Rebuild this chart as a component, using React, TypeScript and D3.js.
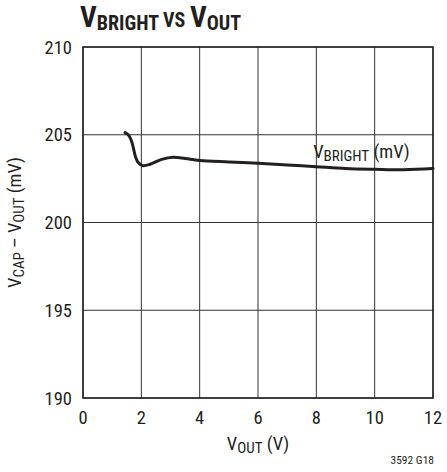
import React from "react";
import * as d3 from "d3";

// V_BRIGHT curve: [V_OUT (V), V_CAP - V_OUT (mV)]
const vOut = [1.44, 1.55, 1.65, 1.72, 1.8, 1.9, 2.05, 2.3, 2.7, 3.1, 3.5, 4.0, 5, 6, 7, 8, 9, 10, 11, 12];
const vBright = [205.12, 205.0, 204.7, 204.3, 203.75, 203.4, 203.24, 203.32, 203.6, 203.72, 203.65, 203.53, 203.45, 203.38, 203.28, 203.18, 203.08, 203.03, 203.0, 203.07];

const xTicks = [0, 2, 4, 6, 8, 10, 12];
const yTicks = [190, 195, 200, 205, 210];

const FONT = "'Liberation Sans Narrow', 'Arial Narrow', 'Roboto Condensed', sans-serif";

const App: React.FC = () => {
  const width = 447;
  const height = 472;
  const margin = { top: 47, right: 14, bottom: 74, left: 83 };
  const innerWidth = width - margin.left - margin.right;
  const innerHeight = height - margin.top - margin.bottom;

  const x = d3.scaleLinear().domain([0, 12]).range([0, innerWidth]);
  const y = d3.scaleLinear().domain([190, 210]).range([innerHeight, 0]);

  const points: [number, number][] = vOut.map((v, i) => [v, vBright[i]]);
  const line = d3
    .line<[number, number]>()
    .x((d) => x(d[0]))
    .y((d) => y(d[1]))
    .curve(d3.curveCatmullRom.alpha(0.5));

  return (
    <svg
      width={width}
      height={height}
      style={{ position: "absolute", left: 0, top: 0, background: "#fff" }}
      fontFamily={FONT}
    >
      {/* title */}
      <text x={80} y={27} fontWeight="bold" fontSize={29} fill="#231f20">
        V<tspan fontSize={20} dy={3}>BRIGHT</tspan>
        <tspan fontSize={20} dy={-3}> VS </tspan>
        V<tspan fontSize={20} dy={3}>OUT</tspan>
      </text>

      <g transform={`translate(${margin.left}, ${margin.top})`}>
        {/* grid */}
        {xTicks.map((t) => (
          <line key={`gx-${t}`} x1={x(t)} x2={x(t)} y1={0} y2={innerHeight} stroke="#333" strokeWidth={1} />
        ))}
        {yTicks.map((t) => (
          <line key={`gy-${t}`} x1={0} x2={innerWidth} y1={y(t)} y2={y(t)} stroke="#333" strokeWidth={1} />
        ))}
        <rect x={0} y={0} width={innerWidth} height={innerHeight} fill="none" stroke="#231f20" strokeWidth={1.5} />

        {/* curve */}
        <path d={line(points) ?? ""} fill="none" stroke="#231f20" strokeWidth={3} strokeLinecap="round" />

        {/* curve label */}
        <text x={x(7.89)} y={y(203.66)} fontSize={18.5} fill="#231f20">
          V<tspan fontSize={15} dy={3}>BRIGHT</tspan>
          <tspan dy={-3}> (mV)</tspan>
        </text>

        {/* x tick labels */}
        {xTicks.map((t) => (
          <text key={`xt-${t}`} x={x(t)} y={innerHeight + 25.5} textAnchor="middle" fontSize={18.5} fill="#231f20">
            {t}
          </text>
        ))}

        {/* y tick labels */}
        {yTicks.map((t) => (
          <text key={`yt-${t}`} x={-11} y={y(t) + 6.5} textAnchor="end" fontSize={18.5} fill="#231f20">
            {t}
          </text>
        ))}

        {/* x axis title */}
        <text x={innerWidth / 2} y={innerHeight + 52} textAnchor="middle" fontSize={18.5} fill="#231f20">
          V<tspan fontSize={15} dy={3}>OUT</tspan>
          <tspan dy={-3}> (V)</tspan>
        </text>

        {/* y axis title */}
        <text
          transform={`translate(${-62}, ${innerHeight / 2}) rotate(-90)`}
          textAnchor="middle"
          fontSize={18.5}
          fill="#231f20"
        >
          V<tspan fontSize={15} dy={3}>CAP</tspan>
          <tspan dy={-3}> – V</tspan>
          <tspan fontSize={15} dy={3}>OUT</tspan>
          <tspan dy={-3}> (mV)</tspan>
        </text>
      </g>

      <text x={434} y={464} textAnchor="end" fontSize={11.5} fill="#231f20">
        3592 G18
      </text>
    </svg>
  );
};

export default App;
